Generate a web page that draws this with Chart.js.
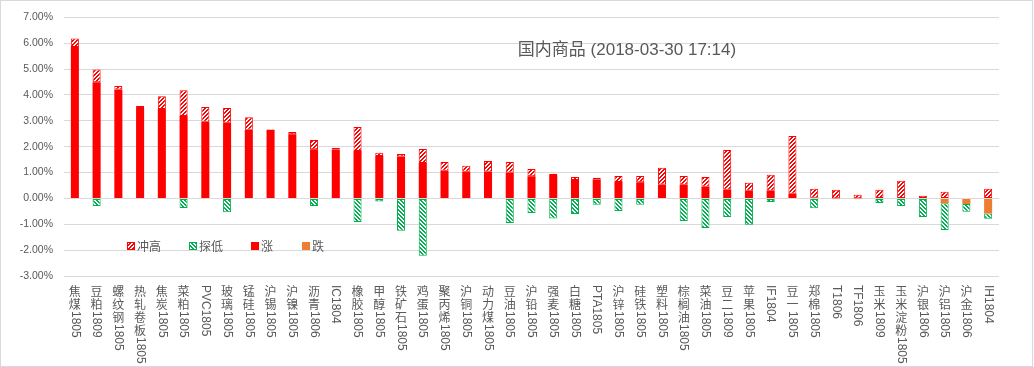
<!DOCTYPE html>
<html><head><meta charset="utf-8">
<script src="https://cdn.jsdelivr.net/npm/chart.js@4.4.1/dist/chart.umd.min.js"></script>
<style>
html,body{margin:0;padding:0;background:#fff;}
#wrap{position:relative;width:1034px;height:367px;}
#frame{position:absolute;left:0;top:0;width:1033px;height:367px;box-sizing:border-box;border:1px solid #D9D9D9;pointer-events:none;}
</style></head><body>
<div id="wrap"><canvas id="c"></canvas><div id="frame"></div></div>
<script>
const chartTitle = '国内商品 (2018-03-30 17:14)';
const categories = ['焦煤1805','豆粕1809','螺纹钢1805','热轧卷板1805','焦炭1805','菜粕1805','PVC1805','玻璃1805','锰硅1805','沪锡1805','沪镍1805','沥青1806','IC1804','橡胶1805','甲醇1805','铁矿石1805','鸡蛋1805','聚丙烯1805','沪铜1805','动力煤1805','豆油1805','沪铅1805','强麦1805','白糖1805','PTA1805','沪锌1805','硅铁1805','塑料1805','棕榈油1805','菜油1805','豆二1809','苹果1805','IF1804','豆一1805','郑棉1805','T1806','TF1806','玉米1809','玉米淀粉1805','沪银1806','沪铝1805','沪金1806','IH1804'];
// values in percent
const rise    = [5.85,4.49,4.21,3.49,3.46,3.18,2.96,2.92,2.65,2.65,2.48,1.90,1.89,1.83,1.64,1.62,1.37,1.07,1.03,1.04,1.00,0.86,0.90,0.71,0.73,0.63,0.62,0.54,0.53,0.45,0.33,0.30,0.30,0.18,0.02,0.01,0.01,0,0,0,0,0,0];
const fall    = [0,0,0,0,0,0,0,0,0,0,0,0,0,0,0,0,0,0,0,0,0,0,0,0,0,0,0,0,0,0,0,0,0,0,0,0,0,0,0,-0.02,-0.19,-0.22,-0.58];
const highExt = [0.33,0.49,0.13,0.08,0.49,1.00,0.57,0.57,0.49,0,0.09,0.36,0.06,0.93,0.12,0.10,0.54,0.34,0.23,0.41,0.41,0.28,0.05,0.12,0.07,0.24,0.25,0.64,0.34,0.38,1.54,0.30,0.61,2.23,0.35,0.32,0.13,0.33,0.68,0.10,0.26,0,0.37];
const lowExt  = [0,-0.29,0,0,0,-0.37,0,-0.54,0,0,0,-0.29,0,-0.91,-0.12,-1.25,-2.22,0,0,0,-0.95,-0.56,-0.78,-0.60,-0.25,-0.49,-0.25,0,-0.87,-1.14,-0.72,-1.02,-0.14,0,-0.38,-0.03,-0.03,-0.18,-0.29,-0.70,-1.03,-0.30,-0.21];
const yMin = -3, yMax = 7, yStep = 1;

const RED = '#FF0000', GREEN = '#00B050', ORANGE = '#ED7D31', TXT = '#595959';
const canvas = document.getElementById('c');
const mainCtx = canvas.getContext('2d');
function hatch(color, dir){
  const c = document.createElement('canvas'); c.width = 4; c.height = 4;
  const g = c.getContext('2d');
  g.fillStyle = '#fff'; g.fillRect(0,0,4,4);
  g.fillStyle = color;
  for (let y=0;y<4;y++) for (let x=0;x<4;x++){
    const k = dir>0 ? (x+y)%4 : ((x-y)%4+4)%4;
    if (k===0 || k===1) g.fillRect(x,y,1,1);
  }
  return mainCtx.createPattern(c,'repeat');
}
const redHatch = hatch(RED, 1), greenHatch = hatch(GREEN, -1);

const decor = {
  id:'decor',
  afterDraw(chart){
    const ctx = chart.ctx, xs = chart.scales.x;
    ctx.save();
    // title
    ctx.fillStyle = TXT;
    ctx.font = '17px "Liberation Sans","Noto Sans CJK SC"';
    ctx.textAlign = 'center'; ctx.textBaseline = 'middle';
    ctx.fillText(chartTitle, 627, 50);
    // legend
    const items = [
      {t: chart.data.datasets[0].label, f: redHatch, s: RED, x:127},
      {t: chart.data.datasets[1].label, f: greenHatch, s: GREEN, x:189},
      {t: chart.data.datasets[2].label, f: RED, s: null, x:251},
      {t: chart.data.datasets[3].label, f: ORANGE, s: null, x:302}
    ];
    ctx.font = '12px "Noto Sans CJK SC"';
    ctx.textAlign = 'left'; ctx.textBaseline = 'middle';
    items.forEach(it=>{
      ctx.fillStyle = it.f; ctx.fillRect(it.x, 242, 8, 8);
      if (it.s){ ctx.strokeStyle = it.s; ctx.lineWidth = 1; ctx.strokeRect(it.x+0.5, 242.5, 7, 7); }
      ctx.fillStyle = TXT; ctx.fillText(it.t, it.x+10, 246);
    });
    // vertical category labels
    ctx.fillStyle = TXT;
    categories.forEach((lab,i)=>{
      const x = xs.getPixelForValue(i);
      let y = 285;
      const runs = lab.match(/[\u2E80-\u9FFF]|[^\u2E80-\u9FFF]+/g);
      runs.forEach(r=>{
        if (/[\u2E80-\u9FFF]/.test(r)){
          ctx.font = '12px "Noto Sans CJK SC"';
          ctx.textAlign = 'center'; ctx.textBaseline = 'middle';
          ctx.fillText(r, x, y+6);
          y += 13;
        } else {
          ctx.font = '12px "Liberation Sans"';
          ctx.save(); ctx.translate(x, y); ctx.rotate(Math.PI/2);
          ctx.textAlign = 'left'; ctx.textBaseline = 'middle';
          ctx.fillText(r, 0, 0); ctx.restore();
          y += ctx.measureText(r).width;
        }
      });
    });
    ctx.restore();
  }
};

new Chart(canvas, {
  type:'bar',
  data:{
    labels: categories,
    datasets:[
      {label:'冲高', data: highExt, backgroundColor: redHatch, borderColor: RED, borderWidth: 1, borderSkipped: false, order: 2},
      {label:'探低', data: lowExt, backgroundColor: greenHatch, borderColor: GREEN, borderWidth: 1, borderSkipped: false, order: 2},
      {label:'涨', data: rise, backgroundColor: RED, borderWidth: 0, order: 1},
      {label:'跌', data: fall, backgroundColor: ORANGE, borderWidth: 0, order: 1}
    ]
  },
  options:{
    responsive:true, maintainAspectRatio:false, animation:false,
    datasets:{bar:{barPercentage:0.37, categoryPercentage:1}},
    layout:{padding:{left:0, top:16, right:35, bottom:0}},
    plugins:{legend:{display:false}, title:{display:false}, tooltip:{enabled:false}},
    scales:{
      x:{stacked:true, grid:{display:false}, border:{display:false}, ticks:{display:false},
         afterFit(s){ s.height = 91; }},
      y:{stacked:true, min:yMin, max:yMax,
         grid:{color:'#D9D9D9', lineWidth:1, drawTicks:false}, border:{display:false},
         ticks:{stepSize:yStep, padding:11, color:TXT, font:{family:'"Liberation Sans"', size:10.5},
                callback:v=>v.toFixed(2)+'%'},
         afterFit(s){ s.width = 64; }}
    }
  },
  plugins:[decor]
});
</script>
</body></html>
